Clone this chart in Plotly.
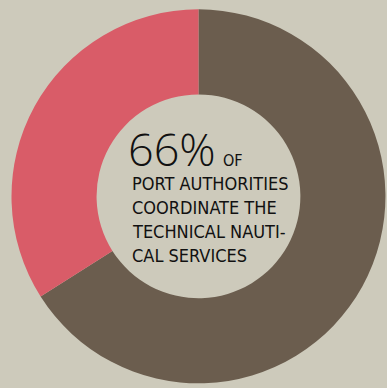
import plotly.graph_objects as go

# Share of port authorities that coordinate technical nautical services
labels = ["Coordinate", "Do not coordinate"]
values = [66, 34]
colors = ["#6b5d4e", "#d95c68"]

headline = "66%"
headline_suffix = "OF"
caption_lines = ["PORT AUTHORITIES", "COORDINATE THE", "TECHNICAL NAUTI-", "CAL SERVICES"]

W, H = 387, 388
BG = "#cdcabb"

fig = go.Figure(
    go.Pie(
        labels=labels,
        values=values,
        hole=0.545,
        sort=False,
        direction="clockwise",
        rotation=0,
        marker=dict(colors=colors, line=dict(width=0)),
        textinfo="none",
        hoverinfo="skip",
        showlegend=False,
        domain=dict(x=[0.0297, 0.996], y=[0.008, 0.98]),
    )
)

def px_x(x):
    return x / W

def px_y(y):
    return 1 - y / H

narrow = "Liberation Sans Narrow, DejaVu Sans Condensed, sans-serif"

annotations = [
    dict(
        text=headline, x=px_x(126), y=px_y(148), xanchor="left", yanchor="middle",
        height=40, valign="middle",
        font=dict(family="Open Sans", weight=300, size=45, color="#111111"),
    ),
    dict(
        text=headline_suffix, x=px_x(221), y=px_y(160), xanchor="left", yanchor="middle",
        height=16, valign="middle",
        font=dict(family=narrow, size=16, color="#111111"),
    ),
]
for i, line in enumerate(caption_lines):
    annotations.append(
        dict(
            text=line, x=px_x(130), y=px_y(183 + 24 * i), xanchor="left", yanchor="middle",
            height=20, valign="middle",
            font=dict(family=narrow, size=18, color="#111111"),
        )
    )
for a in annotations:
    a.update(xref="paper", yref="paper", showarrow=False)

fig.update_layout(
    width=W,
    height=H,
    margin=dict(l=0, r=0, t=0, b=0),
    paper_bgcolor=BG,
    plot_bgcolor=BG,
    annotations=annotations,
)

fig.write_html("out.html", config=dict(displayModeBar=False))
